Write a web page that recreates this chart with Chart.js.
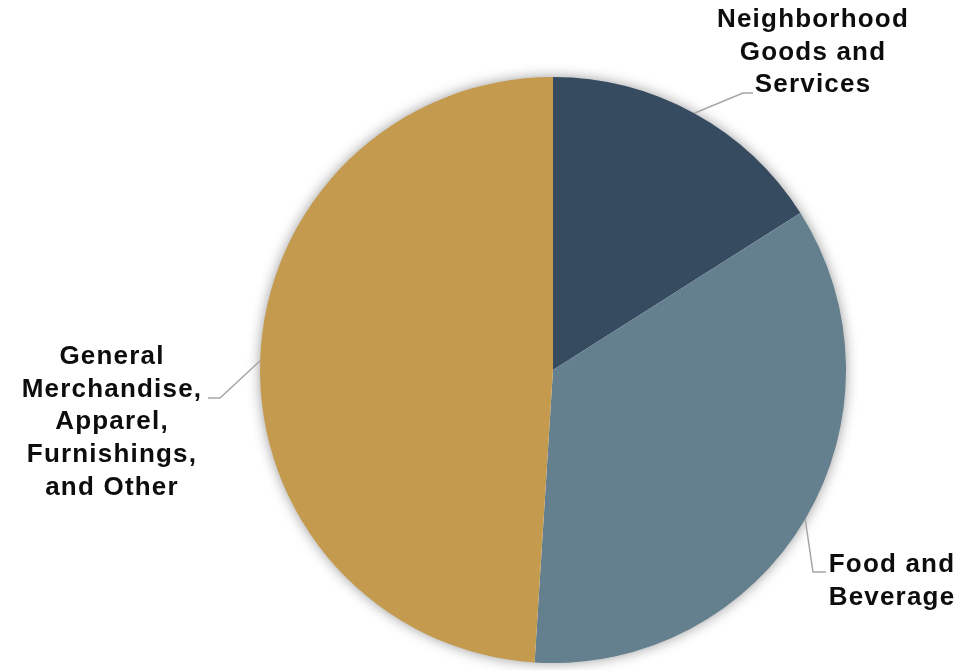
<!DOCTYPE html>
<html>
<head>
<meta charset="utf-8">
<script src="https://cdn.jsdelivr.net/npm/chart.js@4.4.1/dist/chart.umd.min.js"></script>
<style>
  html, body { margin: 0; padding: 0; background: #ffffff; }
  #wrap { width: 972px; height: 670px; }
</style>
</head>
<body>
<div id="wrap"><canvas id="pieChart" width="972" height="670"></canvas></div>
<script>
// data
var categories = ["Neighborhood Goods and Services", "Food and Beverage", "General Merchandise, Apparel, Furnishings, and Other"];
var shares = [16, 35, 49];
var sliceColors = ["#364b60", "#647f8d", "#c39a4e"];

// how each label is broken and where it sits
var labelLines = [
    ["Neighborhood", "Goods and", "Services"],
    ["Food and", "Beverage"],
    ["General", "Merchandise,", "Apparel,", "Furnishings,", "and Other"]
];
var labelSpots = [
    {x: 813, y: 20, elbow: [743, 93], end: [753, 93]},
    {x: 892, y: 565, elbow: [813, 572], end: [826, 572]},
    {x: 112, y: 357, elbow: [220, 398], end: [208, 398]}
];

var ctx = document.getElementById("pieChart");

var pieShadow = {
    id: "pieShadow",
    beforeDatasetsDraw: function(chart) {
        var arc = chart.getDatasetMeta(0).data[0];
        if (!arc) return;
        var c = chart.ctx;
        c.save();
        c.shadowColor = "rgba(0,0,0,0.45)";
        c.shadowBlur = 14;
        c.fillStyle = "#ffffff";
        c.beginPath();
        c.arc(arc.x, arc.y, arc.outerRadius - 1, 0, Math.PI * 2);
        c.fill();
        c.restore();
    }
};

var outsideLabels = {
    id: "outsideLabels",
    afterDatasetsDraw: function(chart) {
        var c = chart.ctx;
        var arcs = chart.getDatasetMeta(0).data;
        c.save();
        arcs.forEach(function(arc, i) {
            var mid = (arc.startAngle + arc.endAngle) / 2;
            var sx = arc.x + Math.cos(mid) * arc.outerRadius;
            var sy = arc.y + Math.sin(mid) * arc.outerRadius;
            var spot = labelSpots[i];
            c.strokeStyle = "#a6a6a6";
            c.lineWidth = 1.5;
            c.beginPath();
            c.moveTo(sx, sy);
            c.lineTo(spot.elbow[0], spot.elbow[1]);
            c.lineTo(spot.end[0], spot.end[1]);
            c.stroke();

            c.fillStyle = "#0d0d0d";
            c.font = "bold 26px 'Liberation Sans', Arial, sans-serif";
            c.letterSpacing = "1.2px";
            c.textAlign = "center";
            c.textBaseline = "middle";
            labelLines[i].forEach(function(line, k) {
                c.fillText(line, spot.x, spot.y + k * 32.6);
            });
        });
        c.restore();
    }
};

var myPieChart = new Chart(ctx, {
    type: 'pie',
    data: {
        labels: categories,
        datasets: [{
            data: shares,
            backgroundColor: sliceColors,
            borderWidth: 0,
            hoverOffset: 0
        }]
    },
    options: {
        responsive: false,
        animation: false,
        layout: {
            padding: {left: 260, right: 126, top: 77, bottom: 7}
        },
        plugins: {
            legend: { display: false },
            tooltip: { enabled: false }
        }
    },
    plugins: [pieShadow, outsideLabels]
});
</script>
</body>
</html>
